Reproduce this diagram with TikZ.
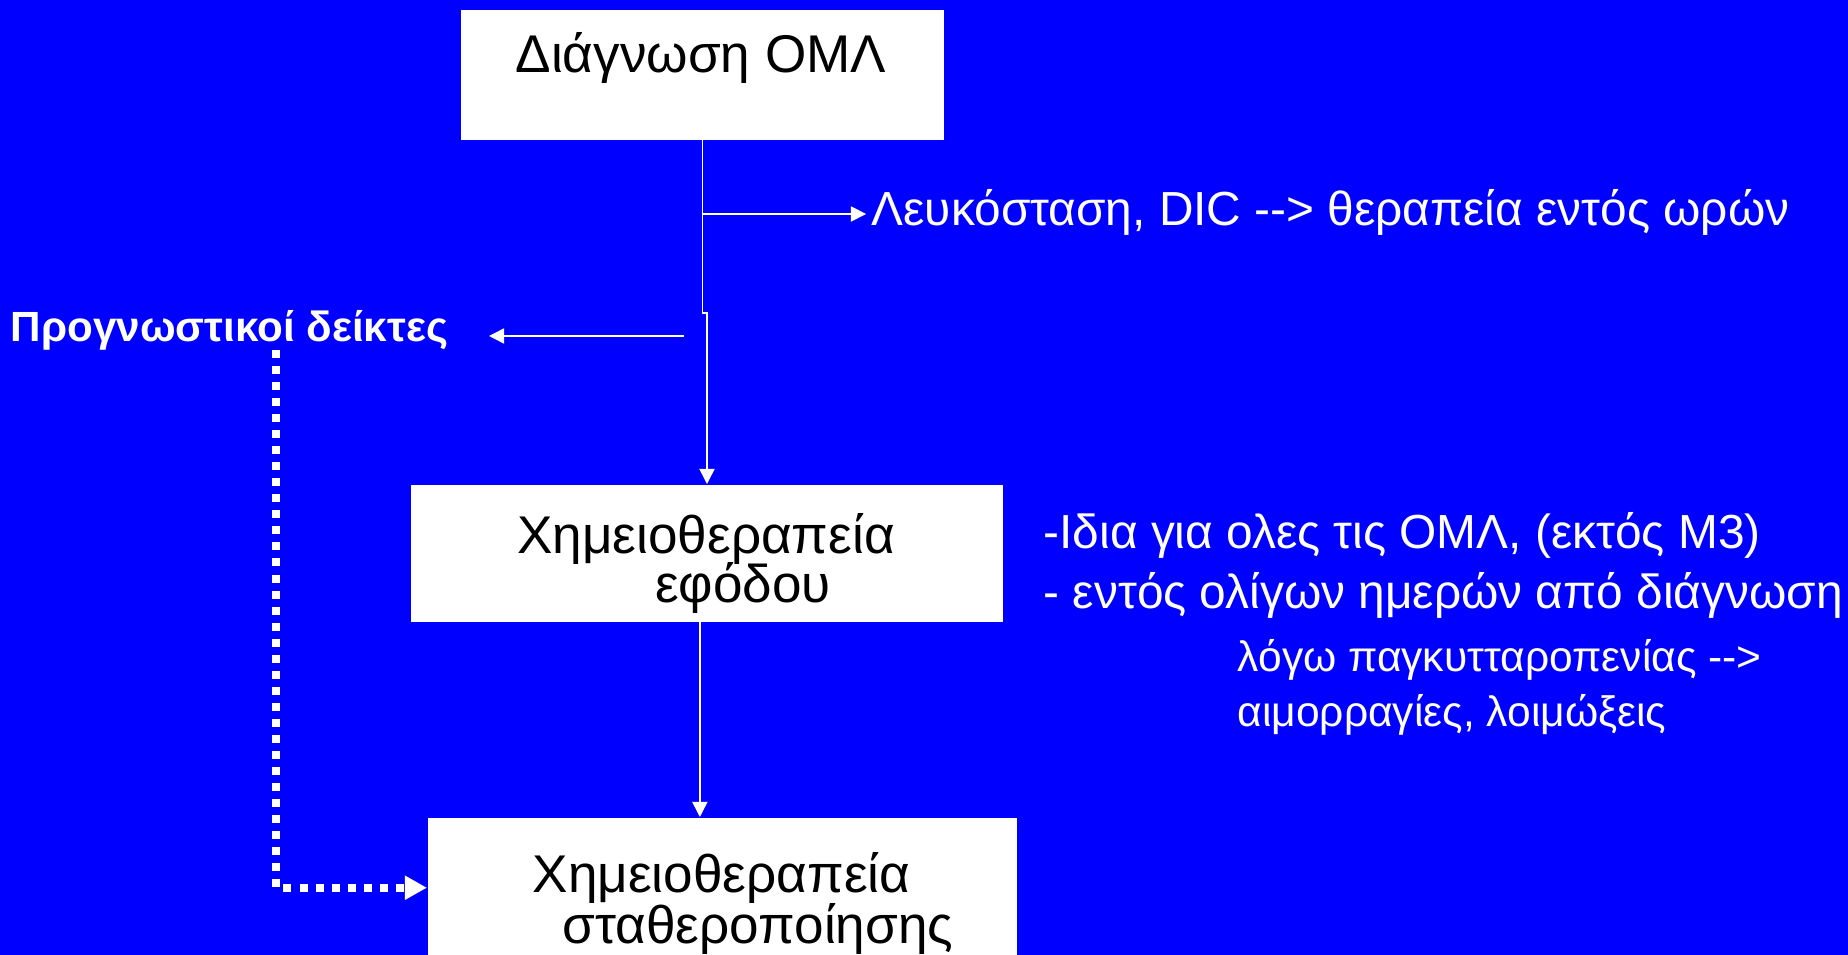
\documentclass[tikz,border=0pt]{standalone}
\usepackage{fontspec}
\setmainfont{Liberation Sans}
\usetikzlibrary{arrows.meta}
\definecolor{slideblue}{RGB}{0,0,255}

\begin{document}
\begin{tikzpicture}[x=0.01cm,y=-0.01cm,
    box/.style={fill=white,anchor=north west,inner sep=0pt},
    boxtext/.style={text=black,inner sep=0pt,anchor=base,font=\fontsize{15.1}{18}\selectfont},
    note/.style={text=white,inner sep=0pt,anchor=base west,font=\fontsize{13.6}{16}\selectfont},
    smallnote/.style={note,font=\fontsize{12.1}{15}\selectfont},
    link/.style={white,line width=0.43pt,-{Triangle[length=4.3pt,width=4.3pt]}},
    dotlink/.style={white,line width=2.28pt,dash pattern=on 2.28pt off 2.28pt,-{Triangle[length=6.3pt,width=6.5pt]}}]
        \clip (0,0) rectangle (1848,955);
        \fill[slideblue] (0,0) rectangle (1848,955);
        % boxes
        \node[box,minimum width=4.83cm,minimum height=1.30cm] (diag) at (460,9) {};
        \node[box,minimum width=5.92cm,minimum height=1.37cm] (induct) at (410,484) {};
        \node[box,minimum width=5.89cm,minimum height=1.40cm] (consol) at (427,817) {};
        \node[boxtext] (diagtext) at (701,73) {Διάγνωση ΟΜΛ};
        \node[boxtext] (inducta) at (706,554) {Χημειοθεραπεία};
        \node[boxtext] (inductb) at (743,603) {εφόδου};
        \node[boxtext] (consola) at (721.5,892) {Χημειοθεραπεία};
        \node[boxtext] (consolb) at (758,943) {σταθεροποίησης};
        % side texts
        \node[note] (leuk) at (871,226) {Λευκόσταση, DIC -{}-> θεραπεία εντός ωρών};
        \node[note,font=\fontsize{12}{14}\selectfont\bfseries] (prog) at (10,342) {Προγνωστικοί δείκτες};
        \node[note] (same) at (1043,549) {-Ιδια για ολες τις ΟΜΛ, (εκτός Μ3)};
        \node[note] (days) at (1043,609) {- εντός ολίγων ημερών από διάγνωση};
        \node[smallnote] (pancy) at (1237,671) {λόγω παγκυτταροπενίας -{}->};
        \node[smallnote] (bleed) at (1237,726) {αιμορραγίες, λοιμώξεις};
        % connectors
        \coordinate (fork) at (701.5,214);
        \coordinate (jog) at (707,313);
        \coordinate (progfrom) at (684,336);
        \coordinate (progtip) at (489,336);
        \coordinate (progdot) at (276,350);
        \draw[link] (diag.south) |- (jog) -- (jog |- induct.north);
        \draw[link,shorten >=1.4pt] (fork) -- (fork -| leuk.west);
        \draw[link] (progfrom) -- (progtip);
        \draw[link] ([xshift=-0.07cm]induct.south) -- ([xshift=-0.07cm]induct.south |- consol.north);
        \draw[dotlink] (progdot) |- (consol.west);
\end{tikzpicture}
\end{document}
